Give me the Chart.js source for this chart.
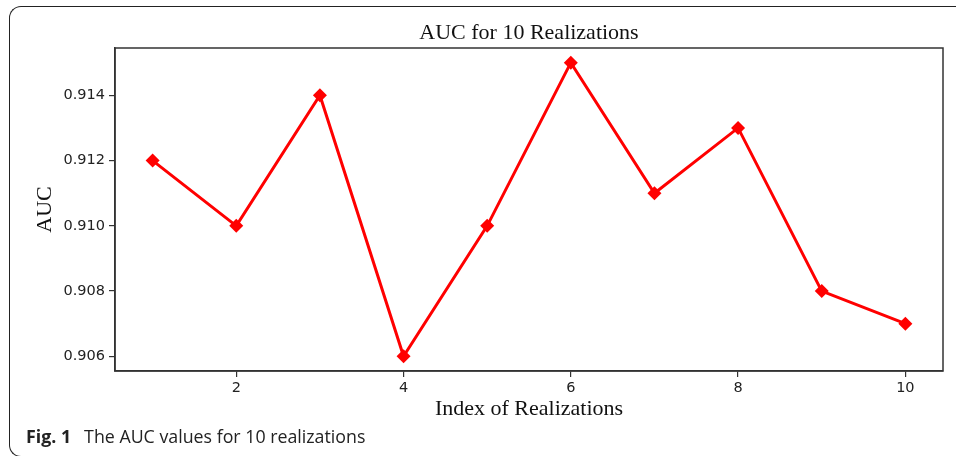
<!DOCTYPE html>
<html>
<head>
<meta charset="utf-8">
<script src="https://cdn.jsdelivr.net/npm/chart.js@4.4.0/dist/chart.umd.min.js"></script>
<style>
  html, body { margin: 0; padding: 0; background: #fff; }
  body { width: 956px; height: 456px; position: relative; overflow: hidden; }
  .frame {
    position: absolute; left: 9px; top: 6px; width: 1000px; height: 449px;
    border: 1.5px solid #222; border-right: none; border-radius: 12px 0 0 12px;
  }
  #wrap { position: absolute; left: 0; top: 0; width: 956px; height: 456px; }
  .caption {
    position: absolute; left: 26px; top: 424px;
    font-family: "Open Sans", "Noto Sans", sans-serif; font-size: 17.8px; color: #222;
  }
  .caption b { margin-right: 13px; }
</style>
</head>
<body>
<div class="frame"></div>
<div id="wrap"><canvas id="aucChart"></canvas></div>
<div class="caption"><b>Fig. 1</b>The AUC values for 10 realizations</div>
<script>
const realizations = [1, 2, 3, 4, 5, 6, 7, 8, 9, 10];
const aucValues = [0.912, 0.910, 0.914, 0.906, 0.910, 0.915, 0.911, 0.913, 0.908, 0.907];
const xTicks = [2, 4, 6, 8, 10];
const yTicks = [0.906, 0.908, 0.910, 0.912, 0.914];
const chartTitle = 'AUC for 10 Realizations';

const serif = '"Liberation Serif", "Times New Roman", serif';
const sans = '"DejaVu Sans", sans-serif';

// matplotlib style: box around the plot area, title centred over the axes
const boxPlugin = {
    id: 'box',
    afterDraw(chart) {
        const a = chart.chartArea;
        const ctx = chart.ctx;
        ctx.save();
        ctx.strokeStyle = '#333';
        ctx.lineWidth = 1.5;
        ctx.strokeRect(a.left, a.top, a.right - a.left, a.bottom - a.top);
        ctx.fillStyle = '#111';
        ctx.font = '22px ' + serif;
        ctx.textAlign = 'center';
        ctx.textBaseline = 'alphabetic';
        ctx.fillText(chartTitle, (a.left + a.right) / 2, a.top - 9);
        ctx.restore();
    }
};

const ctx1 = document.getElementById('aucChart').getContext('2d');
const aucChart = new Chart(ctx1, {
    type: 'line',
    data: {
        datasets: [{
            label: 'AUC',
            data: realizations.map((r, i) => ({ x: r, y: aucValues[i] })),
            borderColor: '#ff0000',
            backgroundColor: '#ff0000',
            borderWidth: 3,
            fill: false,
            tension: 0,
            pointStyle: 'rectRot',
            pointRadius: 7,
            pointHoverRadius: 7,
            pointBackgroundColor: '#ff0000',
            pointBorderWidth: 0
        }]
    },
    options: {
        responsive: true,
        maintainAspectRatio: false,
        animation: false,
        layout: { padding: { left: 0, right: 13, top: 48, bottom: 0 } },
        plugins: {
            legend: { display: false },
            tooltip: { enabled: false },
            title: { display: false }
        },
        scales: {
            x: {
                type: 'linear',
                min: 0.55,
                max: 10.45,
                afterBuildTicks: (scale) => { scale.ticks = xTicks.map(v => ({ value: v })); },
                afterFit: (scale) => { scale.height = 85; },
                grid: { display: true, drawOnChartArea: false, drawTicks: true, tickLength: 6, color: '#333', lineWidth: 1.2 },
                border: { display: true, color: '#333', width: 1.5 },
                ticks: { color: '#222', font: { family: sans, size: 14.5 }, padding: 3, maxRotation: 0 },
                title: {
                    display: true,
                    text: 'Index of Realizations',
                    color: '#111',
                    font: { family: serif, size: 22, weight: 'normal' },
                    padding: { top: 0, bottom: 34 }
                }
            },
            y: {
                type: 'linear',
                min: 0.90555,
                max: 0.91545,
                afterBuildTicks: (scale) => { scale.ticks = yTicks.map(v => ({ value: v })); },
                afterFit: (scale) => { scale.width = 115; },
                grid: { display: true, drawOnChartArea: false, drawTicks: true, tickLength: 6, color: '#333', lineWidth: 1.2 },
                border: { display: true, color: '#333', width: 1.5 },
                ticks: {
                    color: '#222',
                    font: { family: sans, size: 14.5 },
                    padding: 4,
                    callback: (v) => v.toFixed(3)
                },
                title: {
                    display: true,
                    text: 'AUC',
                    color: '#111',
                    font: { family: serif, size: 22, weight: 'normal' },
                    padding: { top: 32, bottom: 0 }
                }
            }
        }
    },
    plugins: [boxPlugin]
});
</script>
</body>
</html>
